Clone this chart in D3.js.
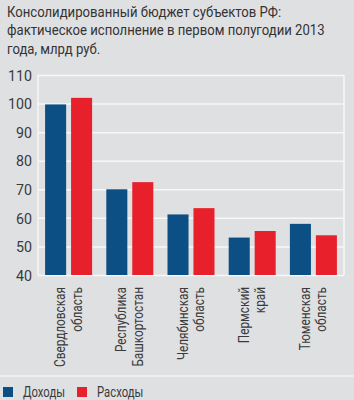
<!DOCTYPE html>
<html>
<head>
<meta charset="utf-8">
<script src="https://cdn.jsdelivr.net/npm/d3@7"></script>
<style>
	html, body { margin: 0; padding: 0; background: #dfe0e2; }
	svg { display: block; }
	text { font-family: "Roboto", "DejaVu Sans Condensed", sans-serif; fill: #3a3a3a; }
</style>
</head>
<body>
<script>
// Regions (two label lines each) and values, bln rub
const regions = [
	["Свердловская", "область"],
	["Республика", "Башкортостан"],
	["Челябинская", "область"],
	["Пермский", "край"],
	["Тюменская", "область"],
]
const income = [99.7, 70.0, 61.2, 53.1, 57.9]
const expense = [102.0, 72.5, 63.4, 55.4, 53.9]
const seriesNames = ["Доходы", "Расходы"]
const yTicks = [40, 50, 60, 70, 80, 90, 100, 110]
const titleLines = [
	"Консолидированный бюджет субъектов РФ:",
	"фактическое исполнение в первом полугодии 2013",
	"года, млрд руб.",
]

const width = 354, height = 400
const margin = { top: 75, right: 10, bottom: 125, left: 38 }
const colours = ["#0b4f84", "#e8202b"]

// Horizontal squeeze so a text matches the condensed face of the original
function squeeze(node, target) {
	let w = node.getComputedTextLength()
	return w > 0 ? target / w : 1
}

const svg = d3.select("body").append("svg")
	.attr("width", width)
	.attr("height", height)

svg.append("rect")
	.attr("width", width)
	.attr("height", height)
	.attr("fill", "#dfe0e2")

// Title
const title = svg.append("g")
const titleText = title.selectAll("text")
	.data(titleLines)
	.join("text")
	.attr("x", 0)
	.attr("y", (d, i) => 17 + i * 18.3)
	.style("font-size", "15px")
	.style("fill", "#333")
	.text(d => d)
let sTitle = squeeze(titleText.nodes()[1], 318)
title.attr("transform", `translate(7,0) scale(${sTitle},1)`)

const x0 = d3.scaleBand()
	.domain(d3.range(regions.length))
	.range([margin.left, width - margin.right])
	.paddingInner(0.232)
	.paddingOuter(0.116)

const x1 = d3.scaleBand()
	.domain([0, 1])
	.range([0, x0.bandwidth()])
	.paddingInner(0.19)

const y = d3.scaleLinear()
	.domain([40, 110])
	.range([height - margin.bottom, margin.top])

// Gridlines
svg.append("g")
	.attr("transform", `translate(${margin.left},0)`)
	.call(d3.axisLeft(y).tickValues(yTicks).tickSize(-(width - margin.left - margin.right)).tickFormat(""))
	.call(g => g.select(".domain").remove())
	.call(g => g.selectAll("line").attr("stroke", "#f7f7f7").attr("stroke-width", 1.5))

// Frame sides
svg.append("g")
	.selectAll("line")
	.data([margin.left, width - margin.right])
	.join("line")
	.attr("x1", d => d).attr("x2", d => d)
	.attr("y1", y(110)).attr("y2", y(40))
	.attr("stroke", "#f7f7f7")
	.attr("stroke-width", 1.5)

// Y tick labels
const yAxis = svg.append("g")
	.attr("transform", `translate(${margin.left},0)`)
	.call(d3.axisLeft(y).tickValues(yTicks).tickSize(0).tickPadding(0))
	.call(g => g.select(".domain").remove())
yAxis.selectAll("text")
	.attr("x", 0)
	.attr("dy", "0.36em")
	.style("font-size", "14.5px")
	.style("font-family", "Roboto, sans-serif")
	.style("fill", "#3a3a3a")
let sTick = squeeze(yAxis.selectAll("text").filter(d => d === 100).node(), 24)
yAxis.selectAll("text")
	.attr("transform", `translate(-6,0) scale(${sTick},1)`)

// Bars
const groups = svg.append("g")
	.selectAll("g")
	.data(regions.map((r, i) => [income[i], expense[i]]))
	.join("g")
	.attr("transform", (d, i) => `translate(${x0(i)},0)`)

groups.selectAll("rect")
	.data(d => d)
	.join("rect")
	.attr("x", (d, i) => x1(i))
	.attr("width", x1.bandwidth())
	.attr("y", d => y(d))
	.attr("height", d => y(40) - y(d))
	.attr("fill", (d, i) => colours[i])

// Category labels, rotated, two lines
const labels = svg.append("g")
	.selectAll("g")
	.data(regions)
	.join("g")
	.attr("transform", (d, i) => `translate(${x0(i) + x0.bandwidth() / 2},${y(40) + 12}) rotate(-90)`)

const labelText = labels.selectAll("text")
	.data(d => d)
	.join("text")
	.attr("x", 0)
	.attr("y", (d, i) => i === 0 ? -3.5 : 13)
	.attr("text-anchor", "end")
	.style("font-size", "14px")
	.text(d => d)
let sLabel = squeeze(labelText.nodes()[0], 80)
labelText.attr("transform", `scale(${sLabel},1)`)

// Separator
svg.append("line")
	.attr("x1", 0).attr("x2", width)
	.attr("y1", 376).attr("y2", 376)
	.attr("stroke", "#f2f2f2")
	.attr("stroke-width", 1.5)

// Legend
const legend = svg.append("g")
	.selectAll("g")
	.data(seriesNames)
	.join("g")
	.attr("transform", (d, i) => `translate(${3 + i * 74},387)`)

legend.append("rect")
	.attr("width", 10)
	.attr("height", 10)
	.attr("fill", (d, i) => colours[i])

const legendText = legend.append("text")
	.attr("x", 0)
	.attr("y", 10)
	.style("font-size", "14.5px")
	.text(d => d)
let sLegend = squeeze(legendText.nodes()[0], 42)
legendText.attr("transform", `translate(20,0) scale(${sLegend},1)`)
</script>
</body>
</html>
